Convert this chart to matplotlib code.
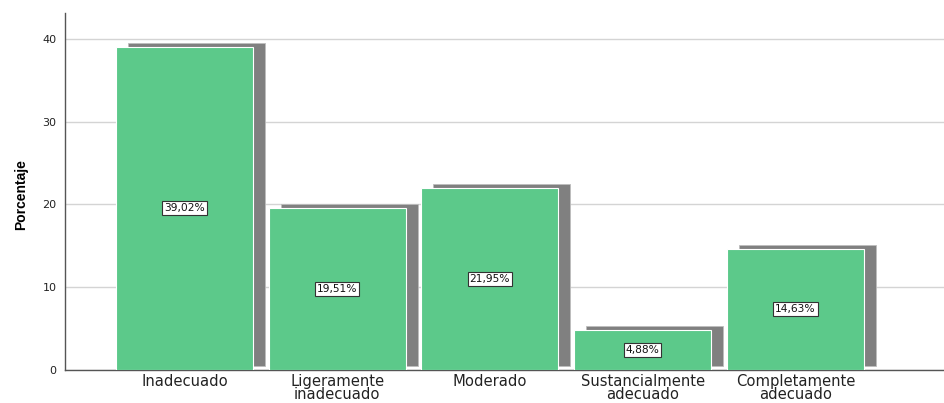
import matplotlib.pyplot as plt
import numpy as np

categorias = ["Inadecuado", "Ligeramente\ninadecuado", "Moderado",
              "Sustancialmente\nadecuado", "Completamente\nadecuado"]
porcentajes = [39.02, 19.51, 21.95, 4.88, 14.63]
etiquetas = ["39,02%", "19,51%", "21,95%", "4,88%", "14,63%"]

plt.rcParams["font.family"] = ["DejaVu Sans"]

fig = plt.figure(figsize=(9.45, 4.03), dpi=100)
ax = fig.add_axes([65 / 945, 33 / 403, 880 / 945, 357 / 403])

x = np.arange(len(categorias))
ancho = 0.897

# sombra desplazada
ax.bar(x + 0.079, porcentajes, width=ancho, bottom=0.48, color="#808080",
       edgecolor="#bdbdbd", linewidth=0.6, zorder=2)
ax.bar(x, porcentajes, width=ancho, color="#5cc98a", edgecolor="white",
       linewidth=0.8, zorder=3)

for xi, v, t in zip(x, porcentajes, etiquetas):
    ax.text(xi, v / 2, t, ha="center", va="center", fontsize=7.7, zorder=4,
            color="#111111",
            bbox=dict(boxstyle="square,pad=0.18", fc="white", ec="#333333", lw=0.8))

ax.set_xlim(-0.782, 4.98)
ax.set_ylim(0, 43.1)
ax.set_yticks([0, 10, 20, 30, 40])
ax.set_xticks(x)
ax.set_xticklabels(categorias, fontsize=10.6, linespacing=0.8, color="#222222")
ax.tick_params(axis="y", labelsize=8, length=0, pad=6, labelcolor="#222222")
ax.tick_params(axis="x", length=0, pad=3)
ax.yaxis.grid(True, color="#d4d4d4", linewidth=1)
ax.set_axisbelow(True)
for s in ["top", "right"]:
    ax.spines[s].set_visible(False)
for s in ["left", "bottom"]:
    ax.spines[s].set_color("#555555")
    ax.spines[s].set_linewidth(1)

fig.text(21 / 945, 1 - 195 / 403, "Porcentaje", rotation=90, ha="center",
         va="center", fontsize=10, fontweight="bold",
         family=["Liberation Sans", "DejaVu Sans"])

fig.savefig("out.png", dpi=100)
